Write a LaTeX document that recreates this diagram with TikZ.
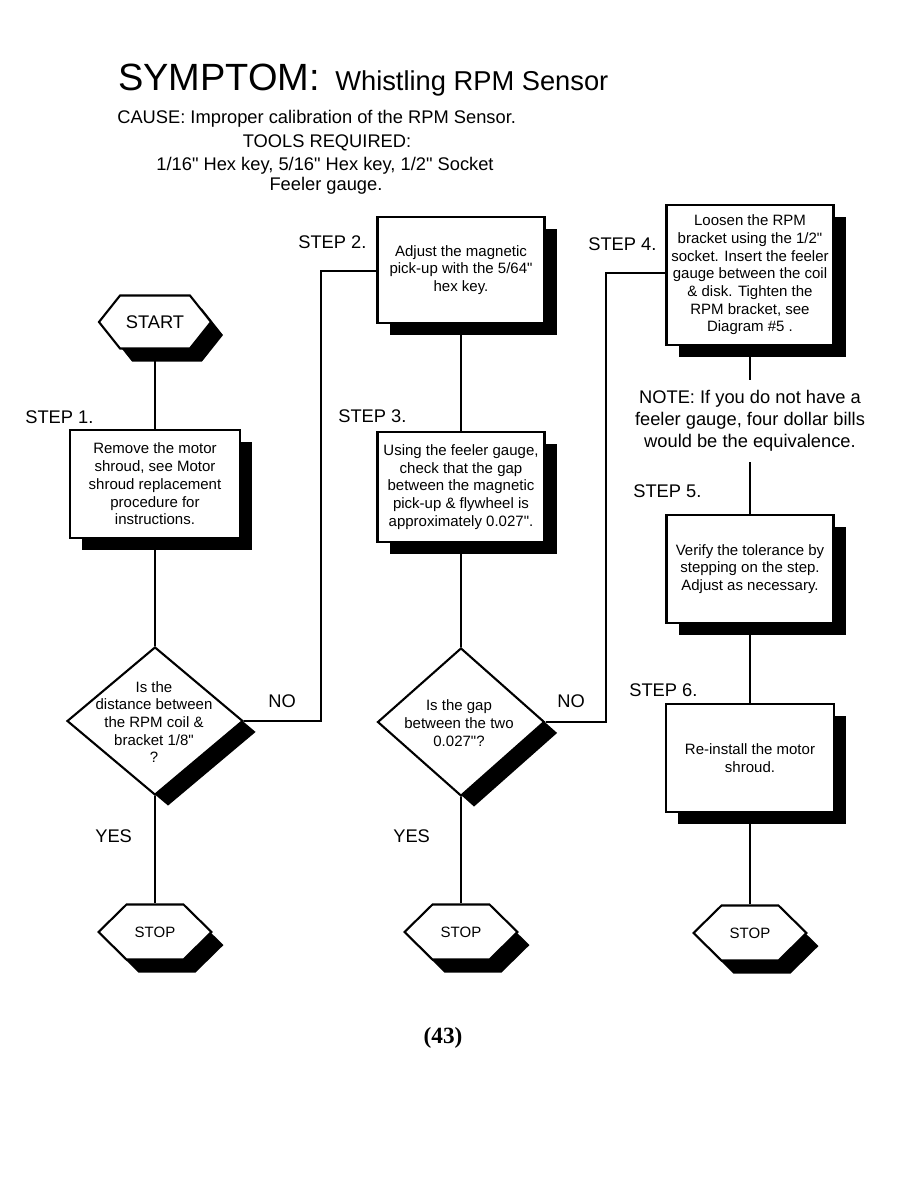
\documentclass[tikz,border=0pt]{standalone}
\usepackage{fontspec}
\setmainfont{Liberation Sans}[Ligatures=TeXOff]
\newfontfamily\pnfont{Liberation Serif}
\usetikzlibrary{shapes.geometric,shapes.symbols,shadows}
\begin{document}
\begin{tikzpicture}[x=0.666667pt,y=-0.666667pt,
  conn/.style={line width=1.5pt},
  lbl/.style={inner sep=0pt,anchor=base west,font=\fontsize{12.2}{14.5}\selectfont},
  stepbox/.style={draw,line width=1.9pt,fill=white,align=center,inner sep=0pt,
     minimum width=111.3pt,font=\fontsize{10}{11.8}\selectfont,
     drop shadow={shadow xshift=8.3pt,shadow yshift=-8.3pt,opacity=1,fill=black}},
  decision/.style={diamond,draw,line width=1.4pt,fill=white,inner sep=0pt,minimum height=98.7pt,
     drop shadow={shadow xshift=8.7pt,shadow yshift=-7.3pt,opacity=1,fill=black}},
  qtext/.style={align=center,inner sep=0pt,font=\fontsize{10}{11.8}\selectfont},
  term/.style={signal,signal to=west and east,draw,line width=1.4pt,fill=white,inner sep=0pt,
     drop shadow={shadow xshift=8pt,shadow yshift=-8.7pt,opacity=1,fill=black}},
  startterm/.style={term,minimum width=74.7pt,minimum height=35.3pt,signal pointer angle=103,
     font=\fontsize{12.2}{14}\selectfont},
  stopterm/.style={term,minimum width=75.3pt,minimum height=36.7pt,signal pointer angle=89,
     font=\fontsize{10}{12}\selectfont},
  notetxt/.style={align=center,inner xsep=0pt,inner ysep=7pt,font=\fontsize{12.2}{14.5}\selectfont},
]
\useasboundingbox (0,0) rectangle (918,1188);

% heading
\node[lbl,font=\fontsize{25.3}{30}\selectfont] (title) at (118,90) {SYMPTOM:};
\node[lbl,font=\fontsize{18.2}{22}\selectfont] (subtitle) at (335,90) {Whistling RPM Sensor};
\node[lbl] (cause) at (117,123) {CAUSE: Improper calibration of the RPM Sensor.};
\node[lbl,anchor=base] (tools) at (327,147) {TOOLS REQUIRED:};
\node[lbl,anchor=base] (tools1) at (325,170) {1/16" Hex key, 5/16" Hex key, 1/2" Socket};
\node[lbl,anchor=base] (tools2) at (326,190) {Feeler gauge.};

% column 1
\node[startterm] (start) at (155,322) {START};
\node[stepbox,minimum width=113.3pt,minimum height=72pt] (b1) at (155,484)
  {Remove the motor\\shroud, see Motor\\shroud replacement\\procedure for\\instructions.};
\node[decision,minimum width=117.3pt] (d1) at (155,721) {};
\node[qtext] (q1) at (154,722) {Is the\\distance between\\the RPM coil \&\\bracket 1/8"\\?};
\node[stopterm] (stop1) at (155,932) {STOP};

% column 2
\node[stepbox,minimum height=70.7pt] (b2) at (461,270)
  {Adjust the magnetic\\pick-up with the 5/64"\\hex key.};
\node[stepbox,minimum height=73.3pt] (b3) at (461,487)
  {Using the feeler gauge,\\check that the gap\\between the magnetic\\pick-up \& flywheel is\\approximately 0.027".};
\node[decision,minimum width=111.3pt] (d2) at (461,722) {};
\node[qtext] (q2) at (459,723) {Is the gap\\between the two\\0.027"?};
\node[stopterm] (stop2) at (461,932) {STOP};

% column 3
\node[stepbox,minimum height=93.3pt] (b4) at (750,275)
  {Loosen the RPM\\bracket using the 1/2"\\socket. Insert the feeler\\gauge between the coil\\\& disk. Tighten the\\RPM bracket, see\\Diagram \#5 .};
\node[notetxt] (note) at (750,421)
  {NOTE: If you do not have a\\feeler gauge, four dollar bills\\would be the equivalence.};
\node[stepbox,minimum height=72pt] (b5) at (750,569)
  {Verify the tolerance by\\stepping on the step.\\Adjust as necessary.};
\node[stepbox,minimum width=112pt,minimum height=72pt] (b6) at (750,758)
  {Re-install the motor\\shroud.};
\node[stopterm] (stop3) at (750,933) {STOP};

% labels
\node[lbl] (s1) at (25,423) {STEP 1.};
\node[lbl] (s2) at (298,248) {STEP 2.};
\node[lbl] (s3) at (338,422) {STEP 3.};
\node[lbl] (s4) at (588,250) {STEP 4.};
\node[lbl] (s5) at (633,497) {STEP 5.};
\node[lbl] (s6) at (629,696) {STEP 6.};
\node[lbl] (no1) at (268,707) {NO};
\node[lbl] (no2) at (557,707) {NO};
\node[lbl] (yes1) at (95,842) {YES};
\node[lbl] (yes2) at (393,842) {YES};

% connectors
\draw[conn] (start.south) -- (b1.north);
\draw[conn] (b1.south) -- (d1.north);
\draw[conn] (d1.south) -- (stop1.north);
\coordinate (n1) at (321,271);
\draw[conn] (d1.east) -| (n1) -- (n1 -| b2.west);
\draw[conn] (b2.south) -- (b3.north);
\draw[conn] (b3.south) -- (d2.north);
\draw[conn] (d2.south) -- (stop2.north);
\coordinate (n2) at (606,273);
\draw[conn] (d2.east) -| (n2) -- (n2 -| b4.west);
\draw[conn] (b4.south) -- (note.north);
\draw[conn] (note.south) -- (b5.north);
\draw[conn] (b5.south) -- (b6.north);
\draw[conn] (b6.south) -- (stop3.north);

% page number
\node[inner sep=0pt,anchor=base,font=\pnfont\bfseries\fontsize{15.5}{18}\selectfont] (pg) at (443,1043) {(43)};
\end{tikzpicture}
\end{document}
